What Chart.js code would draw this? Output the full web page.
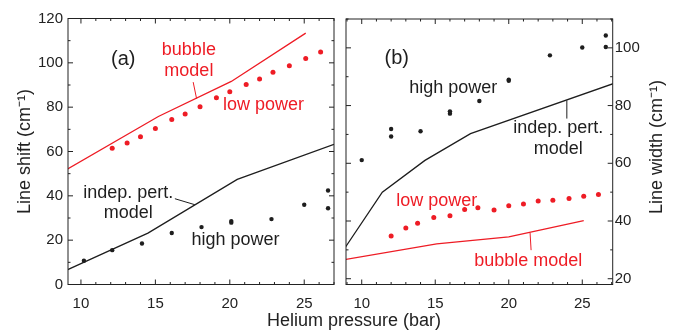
<!DOCTYPE html>
<html>
<head>
<meta charset="utf-8">
<script src="https://cdn.jsdelivr.net/npm/chart.js@4.4.0/dist/chart.umd.min.js"></script>
<style>
body { margin: 0; background: #fff; }
#wrap { position: relative; width: 678px; height: 332px; overflow: hidden; }
canvas { position: absolute; top: 0; }
#chartA { left: 0; }
#chartB { left: 340px; }
.title {
    position: absolute; text-align: center; line-height: 22px; white-space: nowrap;
    font: 18px "Liberation Sans", Arial, sans-serif; color: #222;
}
#xTitle { left: 234px; width: 240px; top: 310px; }
#yTitleB { left: 555px; width: 200px; top: 135px; transform: rotate(-90deg); }
</style>
</head>
<body>
<div id="wrap">
    <canvas id="chartA" width="340" height="332"></canvas>
    <canvas id="chartB" width="338" height="332"></canvas>
    <div id="xTitle" class="title">Helium pressure (bar)</div>
    <div id="yTitleB" class="title">Line width (cm⁻¹)</div>
</div>
<script>
// (a) Line shift - pressao (bar) e valores (cm-1)
const shiftLowP = [12.1, 13.1, 14, 15, 16.1, 17, 18, 19.1, 20, 21.1, 22, 22.9, 24, 25.1, 26.1];
const shiftLow = [61.5, 63.8, 66.7, 70.4, 74.4, 76.9, 80.2, 84.3, 87.0, 90.2, 92.7, 95.7, 98.7, 101.9, 104.9];
const shiftHighP = [10.2, 12.1, 14.1, 16.1, 18.1, 20.1, 20.1, 22.8, 25, 26.6, 26.6];
const shiftHigh = [10.7, 15.5, 18.5, 23.2, 25.9, 28.6, 27.9, 29.5, 36.0, 42.4, 34.4];
const shiftBubbleP = [9, 15.2, 20.1, 25.1];
const shiftBubble = [51.7, 75.8, 91.6, 113.4];
const shiftIndepP = [9, 14.5, 20.5, 27];
const shiftIndep = [6.4, 23.2, 47.4, 63.2];

// (b) Line width
const widthHighP = [10, 12, 12, 14, 16, 16, 18, 20, 20, 22.8, 25, 26.6, 26.6];
const widthHigh = [61.1, 71.9, 69.3, 71.1, 78.0, 77.2, 81.6, 89.0, 88.6, 97.4, 100.1, 100.3, 104.3];
const widthLowP = [12, 13, 13.8, 14.9, 16, 17, 17.9, 19, 20, 21, 22, 23, 24.1, 25.1, 26.1];
const widthLow = [34.8, 37.6, 39.2, 41.2, 41.8, 44.0, 44.6, 43.8, 45.3, 45.9, 46.9, 47.2, 47.8, 48.6, 49.2];
const widthBubbleP = [8.9, 15.1, 20, 25.1];
const widthBubble = [26.7, 32.1, 34.5, 40.1];
const widthIndepP = [8.9, 11.4, 14.3, 17.4, 27.1];
const widthIndep = [31, 50, 61, 70.3, 87.6];

// rotulos dos eixos
const xTickLabels = [10, 15, 20, 25];
const shiftTickLabels = [0, 20, 40, 60, 80, 100, 120];
const widthTickLabels = [20, 40, 60, 80, 100];

const RED = '#ee1c25';
const BLACK = '#1e1e1e';
const FONT = '"Liberation Sans", Arial, sans-serif';

function pts(xs, ys) {
    return xs.map((x, i) => ({ x: x, y: ys[i] }));
}

function lineSet(xs, ys, color) {
    return { data: pts(xs, ys), showLine: true, borderColor: color, borderWidth: 1.3, pointRadius: 0, fill: false };
}

function dotSet(xs, ys, color, r) {
    return { data: pts(xs, ys), showLine: false, backgroundColor: color, borderWidth: 0, pointRadius: r };
}

// moldura, marcas internas, textos e linhas de chamada
const framePlugin = {
    id: 'frame',
    afterDatasetsDraw(chart, args, opts) {
        const ctx = chart.ctx;
        const a = chart.chartArea;
        const x = chart.scales.x;
        const y = chart.scales.y;
        ctx.save();
        ctx.strokeStyle = '#222';
        ctx.lineWidth = 1;
        ctx.strokeRect(a.left, a.top, a.right - a.left, a.bottom - a.top);
        ctx.beginPath();
        for (let v = Math.ceil(x.min); v <= x.max; v++) {
            const px = x.getPixelForValue(v);
            const len = v % 5 === 0 ? 5 : 2.5;
            ctx.moveTo(px, a.bottom); ctx.lineTo(px, a.bottom - len);
            ctx.moveTo(px, a.top); ctx.lineTo(px, a.top + len);
        }
        for (let v = Math.ceil(y.min / 10) * 10; v <= y.max; v += 10) {
            const py = y.getPixelForValue(v);
            const len = v % 20 === 0 ? 5 : 2.5;
            ctx.moveTo(a.left, py); ctx.lineTo(a.left + len, py);
            ctx.moveTo(a.right, py); ctx.lineTo(a.right - len, py);
        }
        ctx.stroke();

        ctx.lineWidth = 1;
        (opts.leaders || []).forEach(l => {
            ctx.strokeStyle = l.color;
            ctx.beginPath();
            ctx.moveTo(x.getPixelForValue(l.x1), y.getPixelForValue(l.y1));
            ctx.lineTo(x.getPixelForValue(l.x2), y.getPixelForValue(l.y2));
            ctx.stroke();
        });

        ctx.textAlign = 'center';
        ctx.textBaseline = 'middle';
        (opts.notes || []).forEach(n => {
            ctx.fillStyle = n.color;
            ctx.font = (n.size || 18) + 'px ' + FONT;
            ctx.fillText(n.text, x.getPixelForValue(n.x), y.getPixelForValue(n.y));
        });
        ctx.restore();
    }
};

const noGrid = { display: false, drawTicks: false, tickLength: 0 };

function xScale(min, max) {
    return {
        type: 'linear', min: min, max: max,
        grid: noGrid, border: { display: false },
        afterBuildTicks: s => { s.ticks = xTickLabels.map(v => ({ value: v })); },
        afterFit: s => { s.height = 47.5; },
        ticks: { color: '#222', padding: 10, font: { family: FONT, size: 15 } }
    };
}

new Chart(document.getElementById('chartA'), {
    type: 'scatter',
    data: {
        datasets: [
            lineSet(shiftBubbleP, shiftBubble, RED),
            lineSet(shiftIndepP, shiftIndep, BLACK),
            dotSet(shiftLowP, shiftLow, RED, 2.5),
            dotSet(shiftHighP, shiftHigh, BLACK, 2.2)
        ]
    },
    options: {
        responsive: false,
        animation: false,
        layout: { padding: { top: 18.5, right: 6, left: 0, bottom: 0 } },
        plugins: {
            legend: { display: false },
            tooltip: { enabled: false },
            frame: {
                notes: [
                    { text: '(a)', x: 12.84, y: 101.4, color: BLACK, size: 20 },
                    { text: 'bubble', x: 17.25, y: 105.6, color: RED },
                    { text: 'model', x: 17.25, y: 96.2, color: RED },
                    { text: 'low power', x: 22.26, y: 81.1, color: RED },
                    { text: 'indep. pert.', x: 13.18, y: 41.2, color: BLACK },
                    { text: 'model', x: 13.18, y: 32.2, color: BLACK },
                    { text: 'high power', x: 20.38, y: 20.2, color: BLACK }
                ],
                leaders: [
                    { x1: 17.54, y1: 91.3, x2: 17.77, y2: 83.8, color: RED },
                    { x1: 16.31, y1: 38.7, x2: 17.65, y2: 36.0, color: BLACK }
                ]
            }
        },
        scales: {
            x: xScale(9.13, 27),
            y: {
                type: 'linear', min: 0, max: 120,
                grid: noGrid, border: { display: false },
                afterBuildTicks: s => { s.ticks = shiftTickLabels.map(v => ({ value: v })); },
                afterFit: s => { s.width = 68; },
                ticks: { color: '#222', padding: 5, font: { family: FONT, size: 15 } },
                title: {
                    display: true, text: 'Line shift (cm⁻¹)', color: '#222',
                    padding: { top: 14, bottom: 0 },
                    font: { family: FONT, size: 18 }
                }
            }
        }
    },
    plugins: [framePlugin]
});

new Chart(document.getElementById('chartB'), {
    type: 'scatter',
    data: {
        datasets: [
            lineSet(widthBubbleP, widthBubble, RED),
            lineSet(widthIndepP, widthIndep, BLACK),
            dotSet(widthLowP, widthLow, RED, 2.5),
            dotSet(widthHighP, widthHigh, BLACK, 2.2)
        ]
    },
    options: {
        responsive: false,
        animation: false,
        layout: { padding: { top: 19, right: 0, left: 6, bottom: 0 } },
        plugins: {
            legend: { display: false },
            tooltip: { enabled: false },
            frame: {
                notes: [
                    { text: '(b)', x: 12.38, y: 96.4, color: BLACK, size: 20 },
                    { text: 'high power', x: 16.23, y: 86.2, color: BLACK },
                    { text: 'indep. pert.', x: 23.37, y: 72.1, color: BLACK },
                    { text: 'model', x: 23.37, y: 64.9, color: BLACK },
                    { text: 'low power', x: 15.1, y: 46.8, color: RED },
                    { text: 'bubble model', x: 21.33, y: 26.3, color: RED }
                ],
                leaders: [
                    { x1: 23.95, y1: 81.8, x2: 23.95, y2: 75.5, color: BLACK },
                    { x1: 21.45, y1: 35.9, x2: 21.52, y2: 29.9, color: RED }
                ]
            }
        },
        scales: {
            x: xScale(8.93, 27.07),
            y: {
                type: 'linear', position: 'right', min: 18, max: 110,
                grid: noGrid, border: { display: false },
                afterBuildTicks: s => { s.ticks = widthTickLabels.map(v => ({ value: v })); },
                afterFit: s => { s.width = 65.3; },
                ticks: { color: '#222', padding: 2, font: { family: FONT, size: 15 } }
            }
        }
    },
    plugins: [framePlugin]
});
</script>
</body>
</html>
